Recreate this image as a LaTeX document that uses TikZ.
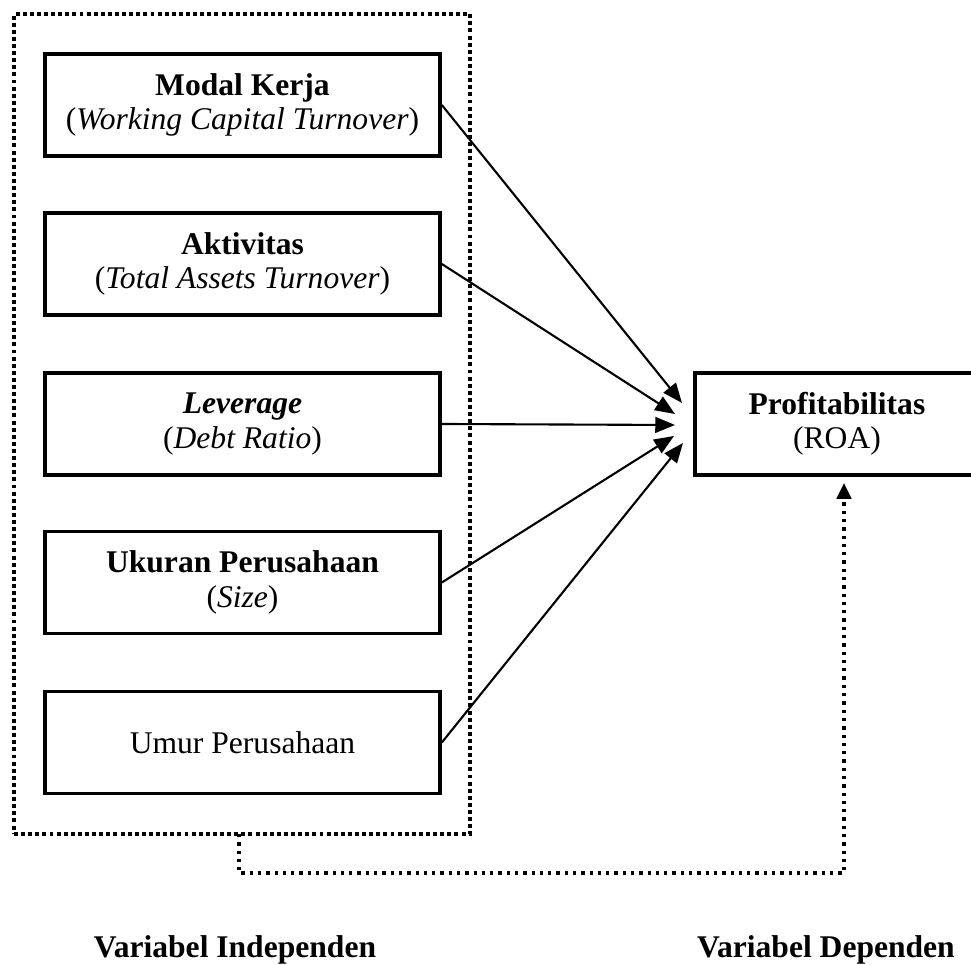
\documentclass[tikz,border=0pt]{standalone}
\usepackage{fontspec}
\setmainfont{Liberation Serif}
\usetikzlibrary{arrows.meta}
\begin{document}
\begin{tikzpicture}[x=0.38pt,y=-0.38pt,
  varbox/.style={draw,line width=1.4pt,minimum width=150.1pt,minimum height=38.8pt,inner sep=0pt,align=center,font=\fontsize{12}{13}\selectfont},
  outerbox/.style={draw,line width=1.3pt,dash pattern=on 1.5pt off 1.2pt,minimum width=173.3pt,minimum height=311.6pt,inner sep=0pt},
  arr/.style={line width=0.8pt,-{Triangle[length=7.5pt,width=6pt]}},
  conn/.style={line width=1.25pt,dash pattern=on 1.25pt off 1.9pt,-{Triangle[length=6pt,width=5.5pt]}},
  lbl/.style={font=\fontsize{12}{13}\selectfont\bfseries,anchor=base}]
\useasboundingbox (0,0) rectangle (971,965);
\node[outerbox] (outer) at (242,424) {};
\node[varbox] (b1) at (242.5,105) {\textbf{Modal Kerja}\\(\textit{Working Capital Turnover})};
\node[varbox] (b2) at (242.5,264) {\textbf{Aktivitas}\\(\textit{Total Assets Turnover})};
\node[varbox] (b3) at (242.5,424) {\textbf{\textit{Leverage}}\\(\textit{Debt Ratio})};
\node[varbox] (b4) at (242.5,582.5) {\textbf{Ukuran Perusahaan}\\(\textit{Size})};
\node[varbox] (b5) at (242.5,742.5) {Umur Perusahaan};
\node[varbox,minimum width=107.9pt] (roa) at (837,424) {\textbf{Profitabilitas}\\(ROA)};
\coordinate (t1) at (682,403);
\coordinate (t2) at (675,414);
\coordinate (t3) at (675,425);
\coordinate (t4) at (674,436);
\coordinate (t5) at (683,443);
\draw[arr] (b1.east) -- (t1);
\draw[arr] (b2.east) -- (t2);
\draw[arr] (b3.east) -- (t3);
\draw[arr] (b4.east) -- (t4);
\draw[arr] (b5.east) -- (t5);
\coordinate (c0) at (239,834);
\coordinate (c1) at (844,873);
\coordinate (c2) at (844,483);
\draw[conn] (c0) |- (c1) -- (c2);
\node[lbl] (li) at (235,958) {Variabel Independen};
\node[lbl] (ld) at (826,958) {Variabel Dependen};
\end{tikzpicture}
\end{document}
